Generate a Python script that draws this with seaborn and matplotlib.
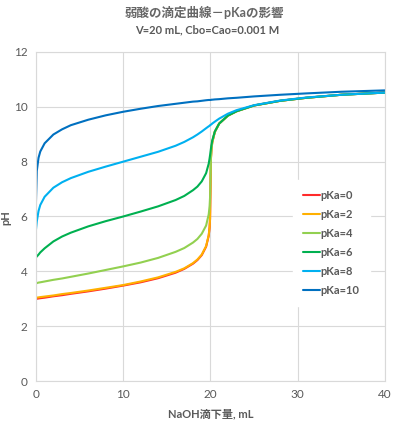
import matplotlib
matplotlib.use("Agg")
import matplotlib.pyplot as plt
import pandas as pd
import seaborn as sns

# NaOH added (mL), shared by all curves
vol = [0, 0.1, 0.3, 0.5, 1, 2, 3, 4, 6, 8, 10, 12, 14, 16, 17, 18, 18.5, 19, 19.5,
       19.8, 19.9, 19.95, 20, 20.05, 20.1, 20.2, 20.5, 21, 22, 23, 25, 28, 31, 35, 40]

# pH for each pKa
ph_pka0 = [3.00, 3.00, 3.01, 3.02, 3.04, 3.09, 3.13, 3.18, 3.27, 3.37, 3.48, 3.60, 3.75, 3.95, 4.09, 4.28, 4.41, 4.59, 4.90,
           5.30, 5.60, 5.90, 7.00, 8.10, 8.40, 8.70, 9.09, 9.39, 9.68, 9.84, 10.05, 10.22, 10.33, 10.44, 10.52]
ph_pka2 = [3.04, 3.04, 3.05, 3.06, 3.08, 3.12, 3.17, 3.21, 3.30, 3.40, 3.50, 3.63, 3.78, 3.98, 4.11, 4.30, 4.43, 4.61, 4.92,
           5.32, 5.62, 5.92, 7.00, 8.10, 8.40, 8.70, 9.09, 9.39, 9.68, 9.84, 10.05, 10.22, 10.33, 10.44, 10.52]
ph_pka4 = [3.57, 3.57, 3.59, 3.60, 3.63, 3.69, 3.74, 3.80, 3.92, 4.05, 4.18, 4.32, 4.49, 4.71, 4.85, 5.05, 5.18, 5.37, 5.67,
           6.08, 6.38, 6.68, 7.35, 8.11, 8.40, 8.70, 9.09, 9.39, 9.68, 9.84, 10.05, 10.22, 10.33, 10.44, 10.52]
ph_pka6 = [4.51, 4.54, 4.61, 4.69, 4.84, 5.09, 5.27, 5.41, 5.64, 5.83, 6.00, 6.18, 6.37, 6.60, 6.75, 6.96, 7.09, 7.28, 7.58,
           7.93, 8.12, 8.23, 8.35, 8.47, 8.58, 8.77, 9.10, 9.39, 9.68, 9.84, 10.05, 10.22, 10.33, 10.44, 10.52]
ph_pka8 = [5.50, 5.82, 6.20, 6.42, 6.72, 7.05, 7.25, 7.40, 7.63, 7.82, 8.00, 8.18, 8.36, 8.58, 8.72, 8.89, 8.99, 9.10, 9.22,
           9.29, 9.31, 9.33, 9.34, 9.35, 9.36, 9.39, 9.46, 9.57, 9.75, 9.88, 10.06, 10.23, 10.34, 10.44, 10.52]
ph_pka10 = [6.48, 7.66, 8.14, 8.37, 8.67, 8.99, 9.18, 9.33, 9.53, 9.69, 9.82, 9.93, 10.03, 10.11, 10.15, 10.19, 10.20, 10.22, 10.24,
            10.25, 10.25, 10.25, 10.25, 10.25, 10.26, 10.26, 10.27, 10.28, 10.31, 10.33, 10.38, 10.44, 10.49, 10.55, 10.60]

labels = ["pKa=0", "pKa=2", "pKa=4", "pKa=6", "pKa=8", "pKa=10"]
series = [ph_pka0, ph_pka2, ph_pka4, ph_pka6, ph_pka8, ph_pka10]
colors = ["#FF2A2A", "#FFB000", "#92D050", "#00B050", "#00B0F0", "#0070C0"]

rows = []
for lab, ys in zip(labels, series):
    for v, p in zip(vol, ys):
        rows.append({"vol": v, "pH": p, "pKa": lab})
df = pd.DataFrame(rows)

sns.set_style("white")
plt.rcParams["font.family"] = ["Lato", "Noto Sans CJK JP", "DejaVu Sans"]

fig = plt.figure(figsize=(3.99, 4.21), dpi=100)
ax = fig.add_axes([0.090, 0.095, 0.875, 0.7815])

sns.lineplot(data=df, x="vol", y="pH", hue="pKa", hue_order=labels,
             palette=colors, sort=False, estimator=None, linewidth=1.5, ax=ax)

ax.set_xlim(0, 40)
ax.set_ylim(0, 12)
ax.set_xticks([0, 10, 20, 30, 40])
ax.set_yticks([0, 2, 4, 6, 8, 10, 12])
ax.grid(True, color="#D9D9D9", linewidth=0.8)
for s in ax.spines.values():
    s.set_color("#D9D9D9")
    s.set_linewidth(0.8)
ax.tick_params(axis="both", length=0, labelsize=8.5, colors="#595959", pad=6)

ax.set_xlabel("NaOH滴下量, mL", fontsize=8, fontweight="bold", color="#595959", labelpad=6)
ax.set_ylabel("pH", fontsize=8, fontweight="bold", color="#595959")
ax.yaxis.set_label_coords(-0.069, 0.498)

handles, labs = ax.get_legend_handles_labels()
leg = ax.legend(handles, labs, loc="center", bbox_to_anchor=(0.846, 0.42),
                frameon=True, fancybox=False, edgecolor="white", facecolor="white",
                framealpha=1, fontsize=8, handlelength=1.5, handletextpad=0.1,
                labelspacing=0.71, borderpad=0.9)
for t in leg.get_texts():
    t.set_color("#595959")
    t.set_fontweight("bold")

fig.text(0.5125, 0.970, "弱酸の滴定曲線－pKaの影響", ha="center", va="center",
         fontsize=9, fontweight="bold", color="#666666")
fig.text(0.519, 0.929, "V=20 mL, Cbo=Cao=0.001 M", ha="center", va="center",
         fontsize=8, fontweight="bold", color="#595959")

fig.savefig("out.png", dpi=100)
